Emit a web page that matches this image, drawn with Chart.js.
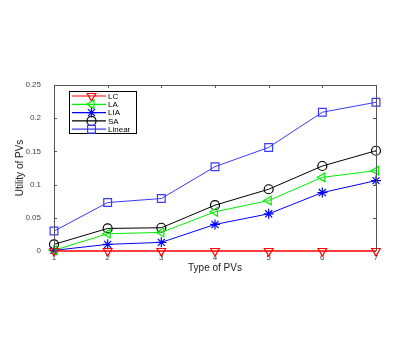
<!DOCTYPE html>
<html>
<head>
<meta charset="utf-8">
<script src="https://cdn.jsdelivr.net/npm/chart.js@4"></script>
<style>
  html, body { margin: 0; padding: 0; background: #fff; }
  #wrap { width: 415px; height: 343px; position: relative; }
</style>
</head>
<body>
<div id="wrap"><canvas id="pvChart"></canvas></div>
<script>
// data
const pvTypes = ['1', '2', '3', '4', '5', '6', '7'];
const lcVals = [0, 0, 0, 0, 0, 0, 0];
const laVals = [0.001, 0.026, 0.028, 0.059, 0.076, 0.111, 0.121];
const liaVals = [0.001, 0.010, 0.013, 0.040, 0.056, 0.088, 0.106];
const saVals = [0.010, 0.034, 0.035, 0.069, 0.093, 0.128, 0.151];
const linearVals = [0.030, 0.073, 0.079, 0.127, 0.156, 0.209, 0.224];
const yTicks = [0, 0.05, 0.1, 0.15, 0.2, 0.25];

const FONT = '"Liberation Sans", Arial, sans-serif';

function series(label, data, color, style, rot, radius, width) {
    return {
        label, data,
        borderColor: color,
        backgroundColor: 'rgba(0,0,0,0)',
        borderWidth: width || 1,
        pointStyle: style,
        pointRotation: rot,
        pointRadius: radius,
        pointBorderWidth: 1.2,
        pointBorderColor: color,
        pointBackgroundColor: 'rgba(0,0,0,0)',
        tension: 0,
        clip: 8,
    };
}

// box, inward ticks and legend like a matlab figure
const matlabAxes = {
    id: 'matlabAxes',
    afterDatasetsDraw(chart) {
        const { ctx, chartArea: a, scales } = chart;
        const x = scales.x, y = scales.y;
        ctx.save();
        ctx.strokeStyle = '#555';
        ctx.lineWidth = 1;
        ctx.beginPath();
        ctx.moveTo(a.left + 0.5, a.bottom);
        ctx.lineTo(a.left + 0.5, a.top + 0.5);
        ctx.lineTo(a.right + 0.5, a.top + 0.5);
        ctx.lineTo(a.right + 0.5, a.bottom);
        pvTypes.forEach((t, i) => {
            const px = Math.round(x.getPixelForValue(i)) + 0.5;
            ctx.moveTo(px, a.top); ctx.lineTo(px, a.top + 3);
        });
        yTicks.forEach(v => {
            const py = Math.round(y.getPixelForValue(v)) + 0.5;
            ctx.moveTo(a.left, py); ctx.lineTo(a.left + 3, py);
            ctx.moveTo(a.right, py); ctx.lineTo(a.right - 3, py);
        });
        ctx.stroke();

        // legend
        const bx = 69.5, by = 91.5, bw = 67, bh = 42;
        ctx.fillStyle = '#fff';
        ctx.fillRect(bx, by, bw, bh);
        ctx.strokeStyle = '#000';
        ctx.strokeRect(bx, by, bw, bh);
        ctx.font = '8px ' + FONT;
        ctx.textBaseline = 'middle';
        ctx.textAlign = 'left';
        chart.data.datasets.forEach((ds, i) => {
            const ly = 96 + i * 8.3;
            ctx.strokeStyle = ds.borderColor;
            ctx.lineWidth = 1.2;
            ctx.beginPath();
            ctx.moveTo(72, ly); ctx.lineTo(106, ly);
            ctx.stroke();
            ctx.fillStyle = 'rgba(0,0,0,0)';
            Chart.helpers.drawPoint(ctx, {
                pointStyle: ds.pointStyle, rotation: ds.pointRotation,
                radius: ds.pointRadius, borderWidth: 1.2
            }, 91.5, ly);
            ctx.fillStyle = '#000';
            ctx.fillText(ds.label, 108, ly + 0.5);
        });
        ctx.restore();
    }
};

document.addEventListener('DOMContentLoaded', () => {
    const ctx = document.getElementById('pvChart').getContext('2d');
    new Chart(ctx, {
        type: 'line',
        data: {
            labels: pvTypes,
            datasets: [
                series('LC', lcVals, '#ff0000', 'triangle', 180, 5, 1.5),
                series('LA', laVals, '#00ee00', 'triangle', 270, 5),
                series('LIA', liaVals, '#0000ff', 'star', 0, 5),
                series('SA', saVals, '#000000', 'circle', 0, 4.5),
                series('Linear', linearVals, '#3a3aff', 'rect', 0, 5.5),
            ]
        },
        options: {
            responsive: true,
            maintainAspectRatio: false,
            animation: false,
            layout: { padding: { top: 85, right: 39, bottom: 69, left: 0 } },
            plugins: { legend: { display: false }, tooltip: { enabled: false } },
            scales: {
                x: {
                    offset: false,
                    grid: { display: false, drawTicks: false },
                    border: { display: false },
                    ticks: { color: '#444', padding: 2, font: { size: 8, family: FONT }, maxRotation: 0 },
                    title: { display: true, text: 'Type of PVs', color: '#222', padding: 0, font: { size: 10, family: FONT } },
                    afterFit: s => { s.height = 23; }
                },
                y: {
                    min: 0, max: 0.25,
                    grid: { display: false, drawTicks: false },
                    border: { display: false },
                    afterBuildTicks: s => { s.ticks = yTicks.map(v => ({ value: v })); },
                    ticks: { color: '#444', padding: 13, font: { size: 8, family: FONT }, callback: v => String(v) },
                    title: { display: true, text: 'Utility of PVs', color: '#222', padding: { top: 14 }, font: { size: 10, family: FONT } },
                    afterFit: s => { s.width = 54; }
                }
            }
        },
        plugins: [matlabAxes]
    });
});
</script>
</body>
</html>
